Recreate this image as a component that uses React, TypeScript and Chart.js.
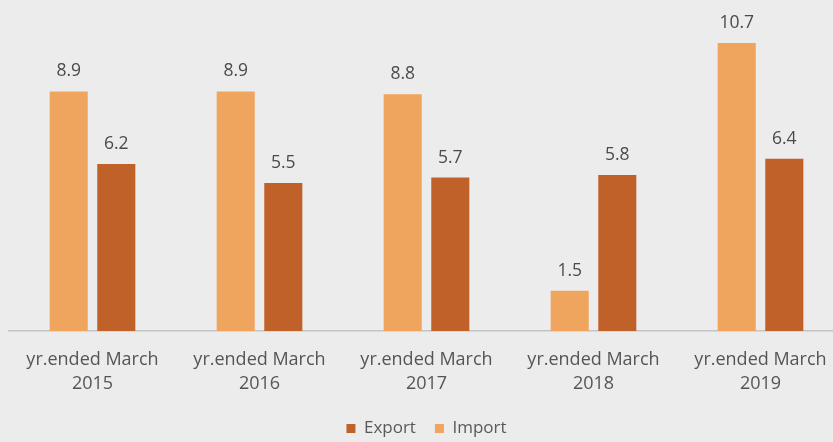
import React, { useEffect, useRef } from "react";
import { Chart, registerables } from "chart.js";

Chart.register(...registerables);

const categories: string[][] = [
  ["yr.ended March", "2015"],
  ["yr.ended March", "2016"],
  ["yr.ended March", "2017"],
  ["yr.ended March", "2018"],
  ["yr.ended March", "2019"],
];
const importValues = [8.9, 8.9, 8.8, 1.5, 10.7];
const exportValues = [6.2, 5.5, 5.7, 5.8, 6.4];

const IMPORT_COLOR = "#F0A55E";
const EXPORT_COLOR = "#C1612A";
const FONT = "'Open Sans', 'DejaVu Sans', sans-serif";

const valueLabels = {
  id: "valueLabels",
  afterDatasetsDraw(chart: any) {
    const ctx = chart.ctx;
    ctx.save();
    ctx.font = `17.5px ${FONT}`;
    ctx.fillStyle = "#4A4A4A";
    ctx.textAlign = "center";
    ctx.textBaseline = "alphabetic";
    chart.data.datasets.forEach((ds: any, i: number) => {
      const meta = chart.getDatasetMeta(i);
      if (meta.hidden) return;
      meta.data.forEach((bar: any, j: number) => {
        const v = ds.data[j] as number;
        ctx.fillText(v.toFixed(1), bar.x, bar.y - 15);
      });
    });
    ctx.restore();
  },
};

export default function App() {
  const ref = useRef<HTMLCanvasElement>(null);
  useEffect(() => {
    if (!ref.current) return;
    const chart = new Chart(ref.current, {
      type: "bar",
      data: {
        labels: categories,
        datasets: [
          {
            label: "Import",
            data: importValues,
            backgroundColor: IMPORT_COLOR,
            categoryPercentage: 0.57,
            barPercentage: 0.8,
          },
          {
            label: "Export",
            data: exportValues,
            backgroundColor: EXPORT_COLOR,
            categoryPercentage: 0.57,
            barPercentage: 0.8,
          },
        ],
      },
      options: {
        responsive: false,
        animation: false,
        layout: { padding: { left: 9, right: 8, top: 8, bottom: 0 } },
        plugins: {
          tooltip: { enabled: false },
          legend: {
            position: "bottom",
            reverse: true,
            labels: {
              boxWidth: 9,
              boxHeight: 9,
              padding: 19,
              color: "#595959",
              font: { family: FONT, size: 17 },
            },
          },
        },
        scales: {
          x: {
            grid: { display: false, drawTicks: false },
            border: { display: true, color: "#C4C4C4", width: 1.5 },
            ticks: {
              padding: 16.5,
              color: "#555555",
              font: { family: FONT, size: 18, lineHeight: 24 / 18 },
              maxRotation: 0,
              autoSkip: false,
            },
            afterFit: (scale: any) => {
              scale.height = 70;
            },
          },
          y: {
            display: false,
            min: 0,
            max: 12,
          },
        },
      },
      plugins: [valueLabels],
    });
    return () => chart.destroy();
  }, []);

  return (
    <div
      style={{
        position: "fixed",
        left: 0,
        top: 0,
        width: 833,
        height: 442,
        overflow: "hidden",
        background: "#ECECEC",
      }}
    >
      <canvas ref={ref} width={852} height={447} style={{ display: "block" }} />
    </div>
  );
}
